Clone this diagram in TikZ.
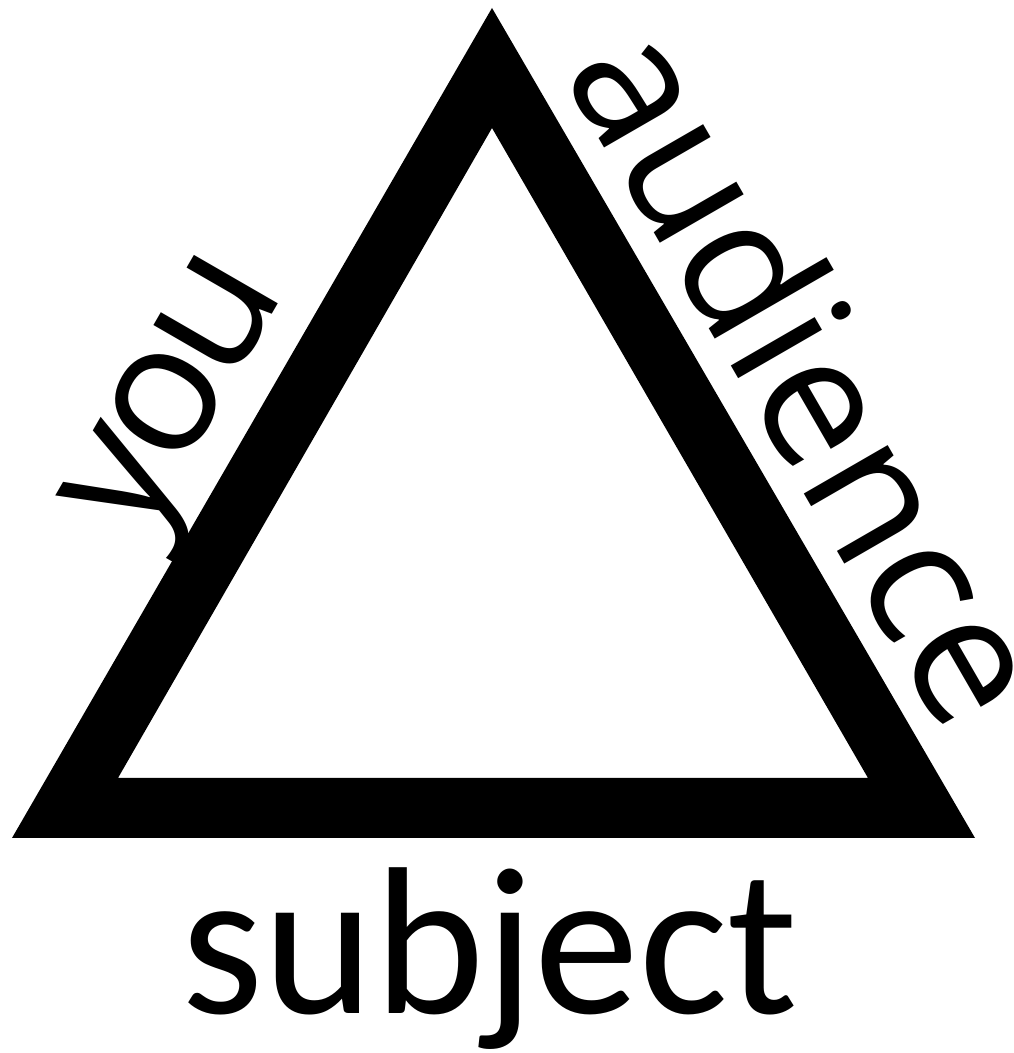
\documentclass[tikz,border=0pt]{standalone}
\usepackage{fontspec}
\setmainfont{Carlito}
\newfontfamily\sidefont{Open Sans}
\newfontfamily\youfont[LetterSpace=-5]{Open Sans}
\begin{document}
\begin{tikzpicture}[x=1pt,y=1pt,
  sidelabel/.style={font=\sidefont\fontsize{181}{181}\selectfont, inner sep=0pt},
  youlabel/.style={font=\youfont\fontsize{181}{181}\selectfont, inner sep=0pt},
  baselabel/.style={font=\fontsize{210}{210}\selectfont, inner sep=0pt}]
\useasboundingbox (0,0) rectangle (1013,1053);
\coordinate (oT) at (492,1045);
\coordinate (oL) at (12,215);
\coordinate (oR) at (975,215);
\coordinate (iT) at (492,925);
\coordinate (iL) at (118,275);
\coordinate (iR) at (868,275);
\fill[black,even odd rule] (oT) -- (oL) -- (oR) -- cycle (iT) -- (iL) -- (iR) -- cycle;
\node[youlabel, rotate=60] (you) at (189,649) {you};
\node[sidelabel, rotate=-60] (aud) at (812.7,681) {audience};
\node[baselabel, anchor=base] (subj) at (490,39) {subject};
\end{tikzpicture}
\end{document}
